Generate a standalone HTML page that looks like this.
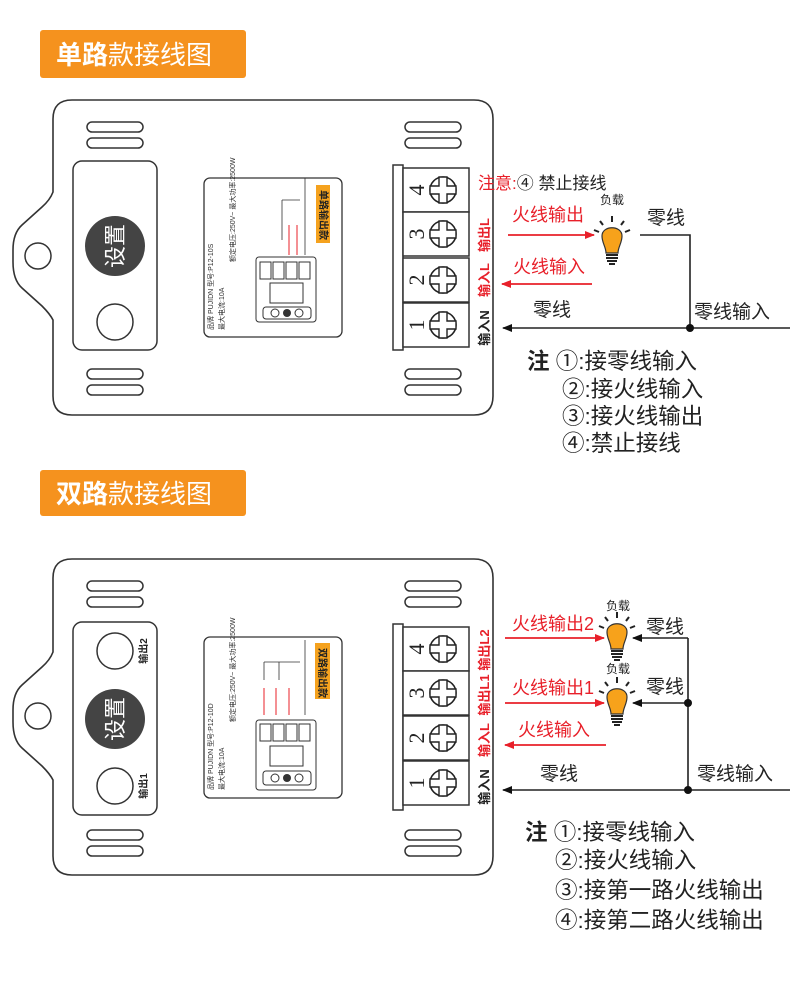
<!DOCTYPE html>
<html><head><meta charset="utf-8"><style>
html,body{margin:0;padding:0;background:#fff;width:790px;height:986px;overflow:hidden}
svg{display:block;font-family:"Liberation Sans","Noto Sans CJK SC",sans-serif}
</style></head><body>
<svg width="790" height="986" viewBox="0 0 790 986" xmlns="http://www.w3.org/2000/svg">
<defs>
<marker id="ar" markerWidth="10" markerHeight="8" refX="9" refY="4" orient="auto" markerUnits="userSpaceOnUse"><path d="M0,0 L10,4 L0,8 Z" fill="#e8202a"/></marker>
<marker id="ab" markerWidth="10" markerHeight="8" refX="9" refY="4" orient="auto" markerUnits="userSpaceOnUse"><path d="M0,0 L10,4 L0,8 Z" fill="#111"/></marker>
<g id="bulb">
<path d="M-10,-4 C-10,-15 10,-15 10,-4 C10,3 6,7 6,13 L-6,13 C-6,7 -10,3 -10,-4 Z" fill="#f7a21b" stroke="#333" stroke-width="1.2"/>
<rect x="-6" y="14" width="12" height="2" fill="#222"/><rect x="-6" y="17" width="12" height="2" fill="#222"/><rect x="-5" y="20" width="10" height="2" fill="#222"/><rect x="-3" y="23" width="6" height="2" fill="#222"/>
<g stroke="#222" stroke-width="2"><line x1="0" y1="-24" x2="0" y2="-18"/><line x1="-12" y1="-19" x2="-9" y2="-15"/><line x1="12" y1="-19" x2="9" y2="-15"/><line x1="-18" y1="-10" x2="-13" y2="-8"/><line x1="18" y1="-10" x2="13" y2="-8"/></g>
</g>
<g id="cell">
<rect x="0" y="0" width="66" height="44" fill="#fff" stroke="#333" stroke-width="1.5"/>
<circle cx="40" cy="22" r="13" fill="#fff" stroke="#222" stroke-width="1.6"/>
<path d="M36,9 L44,9 L44,18 L53,18 L53,26 L44,26 L44,35 L36,35 L36,26 L27,26 L27,18 L36,18 Z" fill="#fff" stroke="#222" stroke-width="1.4"/>
</g>
<g id="slots" fill="#fff" stroke="#333" stroke-width="1.5">
<rect x="0" y="0" width="56" height="10" rx="5"/><rect x="0" y="16" width="56" height="10" rx="5"/>
</g>
</defs>

<rect x="40" y="30" width="206" height="48" rx="3" fill="#f5921e"/>
<text x="56" y="64" font-size="26" fill="#fff"><tspan font-weight="bold">单路</tspan>款接线图</text>

<path d="M72,100 L474,100 Q493,100 493,119 L493,396 Q493,415 474,415 L72,415 Q53,415 53,396 L53,320 Q50,314 42,306 L22,288 Q13,280 13,262 L13,250 Q13,233 22,225 L42,207 Q50,200 53,192 L53,119 Q53,100 72,100 Z" fill="#fff" stroke="#333" stroke-width="1.6"/>
<circle cx="38" cy="256" r="13" fill="#fff" stroke="#333" stroke-width="1.5"/>
<use href="#slots" x="87" y="122"/><use href="#slots" x="87" y="369"/>
<use href="#slots" x="405" y="122"/><use href="#slots" x="405" y="369"/>
<rect x="73" y="161" width="84" height="189" rx="9" fill="#fff" stroke="#333" stroke-width="1.5"/>
<circle cx="115" cy="246" r="30" fill="#444"/>
<text x="0" y="0" font-size="22" fill="#fff" text-anchor="middle" transform="translate(123,246) rotate(-90)">设置</text>
<circle cx="115" cy="322" r="18" fill="#fff" stroke="#333" stroke-width="1.5"/>
<rect x="204" y="178" width="138" height="159" rx="6" fill="#fff" stroke="#333" stroke-width="1.3"/>
<rect x="316" y="185" width="14" height="58" fill="#f5a21e"/>
<text font-size="10" fill="#222" transform="translate(320,190) rotate(90)" font-weight="bold">单路输出款</text>
<rect x="256" y="257" width="60" height="65" rx="3" fill="#fff" stroke="#333"/>
<g fill="#fff" stroke="#333"><rect x="260" y="262" width="11" height="17"/><rect x="273" y="262" width="11" height="17"/><rect x="286" y="262" width="11" height="17"/><rect x="299" y="262" width="11" height="17"/></g>
<rect x="270" y="283" width="33" height="20" fill="#fff" stroke="#333"/>
<rect x="263" y="307" width="48" height="12" rx="3" fill="#fff" stroke="#333"/>
<circle cx="275" cy="313" r="4" fill="#fff" stroke="#333"/><circle cx="287" cy="313" r="4" fill="#333"/><circle cx="299" cy="313" r="4" fill="#fff" stroke="#333"/>
<g stroke="#333" stroke-width="0.8" fill="none"><path d="M305,178 L305,255"/><path d="M282,200 L282,240 M282,200 L300,200"/></g>
<g stroke="#e8202a" stroke-width="1"><line x1="289" y1="225" x2="289" y2="255"/><line x1="297" y1="225" x2="297" y2="255"/></g>
<g font-size="7" fill="#333">
<text transform="translate(213,330) rotate(-90)">品牌 PUJIDN 型号:P12-10S</text>
<text transform="translate(224,330) rotate(-90)">最大电流:10A</text>
<text transform="translate(235,262) rotate(-90)">额定电压:250V~ 最大功率:2500W</text>
</g>

<rect x="393" y="165" width="10" height="185" fill="#fff" stroke="#333" stroke-width="1.5"/>
<use href="#cell" x="403" y="168"/><use href="#cell" x="403" y="212"/><use href="#cell" x="403" y="258"/><use href="#cell" x="403" y="303"/>
<g font-size="22" fill="#222" font-family="Liberation Serif,serif" text-anchor="middle">
<text transform="translate(417,190) rotate(-90)" dy="7">4</text>
<text transform="translate(417,234) rotate(-90)" dy="7">3</text>
<text transform="translate(417,280) rotate(-90)" dy="7">2</text>
<text transform="translate(417,325) rotate(-90)" dy="7">1</text>
</g>
<g font-size="13" font-weight="bold" text-anchor="middle">
<text transform="translate(484,235) rotate(-90)" fill="#e8202a" dy="5">输出L</text>
<text transform="translate(484,280) rotate(-90)" fill="#e8202a" dy="5">输入L</text>
<text transform="translate(484,328) rotate(-90)" fill="#222" dy="5">输入N</text>
</g>
<text x="478" y="189" font-size="17"><tspan fill="#e8202a">注意:</tspan><tspan fill="#222">④ 禁止接线</tspan></text>
<text x="600" y="204" font-size="12" fill="#222">负载</text>
<use href="#bulb" x="612" y="240"/>
<text x="512" y="221" font-size="18" fill="#e8202a">火线输出</text>
<line x1="508" y1="235" x2="594" y2="235" stroke="#e8202a" stroke-width="1.8" marker-end="url(#ar)"/>
<text x="513" y="273" font-size="18" fill="#e8202a">火线输入</text>
<line x1="592" y1="284" x2="502" y2="284" stroke="#e8202a" stroke-width="1.8" marker-end="url(#ar)"/>
<text x="647" y="224" font-size="19" fill="#222">零线</text>
<polyline points="640,235 690,235 690,328" fill="none" stroke="#222" stroke-width="1.6"/>
<text x="533" y="316" font-size="19" fill="#222">零线</text>
<line x1="790" y1="328" x2="503" y2="328" stroke="#222" stroke-width="1.6" marker-end="url(#ab)"/>
<circle cx="690" cy="328" r="4" fill="#111"/>
<text x="694" y="318" font-size="19" fill="#222">零线输入</text>
<g font-size="22.5" fill="#222">
<text x="527" y="369"><tspan font-weight="bold">注</tspan> ①:接零线输入</text>
<text x="562" y="397">②:接火线输入</text>
<text x="562" y="424">③:接火线输出</text>
<text x="562" y="451">④:禁止接线</text>
</g>

<rect x="40" y="470" width="206" height="46" rx="3" fill="#f5921e"/>
<text x="56" y="503" font-size="26" fill="#fff"><tspan font-weight="bold">双路</tspan>款接线图</text>

<path d="M72,559 L474,559 Q493,559 493,578 L493,856 Q493,875 474,875 L72,875 Q53,875 53,856 L53,780 Q50,774 42,766 L22,748 Q13,740 13,722 L13,710 Q13,693 22,685 L42,667 Q50,660 53,652 L53,578 Q53,559 72,559 Z" fill="#fff" stroke="#333" stroke-width="1.6"/>
<circle cx="38" cy="716" r="13" fill="#fff" stroke="#333" stroke-width="1.5"/>
<use href="#slots" x="87" y="581"/><use href="#slots" x="87" y="830"/>
<use href="#slots" x="405" y="581"/><use href="#slots" x="405" y="830"/>
<rect x="73" y="622" width="84" height="193" rx="9" fill="#fff" stroke="#333" stroke-width="1.5"/>
<circle cx="115" cy="651" r="18" fill="#fff" stroke="#333" stroke-width="1.5"/>
<circle cx="115" cy="719" r="30" fill="#444"/>
<text font-size="22" fill="#fff" text-anchor="middle" transform="translate(123,719) rotate(-90)">设置</text>
<circle cx="115" cy="786" r="18" fill="#fff" stroke="#333" stroke-width="1.5"/>
<text font-size="10" font-weight="bold" fill="#222" text-anchor="middle" transform="translate(143,651) rotate(-90)" dy="4">输出2</text>
<text font-size="10" font-weight="bold" fill="#222" text-anchor="middle" transform="translate(143,786) rotate(-90)" dy="4">输出1</text>
<rect x="204" y="637" width="138" height="161" rx="6" fill="#fff" stroke="#333" stroke-width="1.3"/>
<rect x="315" y="643" width="15" height="56" fill="#f5a21e"/>
<text font-size="10" fill="#222" transform="translate(319,648) rotate(90)" font-weight="bold">双路输出款</text>
<rect x="256" y="720" width="60" height="70" rx="3" fill="#fff" stroke="#333"/>
<g fill="#fff" stroke="#333"><rect x="260" y="724" width="11" height="17"/><rect x="273" y="724" width="11" height="17"/><rect x="286" y="724" width="11" height="17"/><rect x="299" y="724" width="11" height="17"/></g>
<rect x="270" y="746" width="33" height="20" fill="#fff" stroke="#333"/>
<rect x="263" y="771" width="48" height="14" rx="3" fill="#fff" stroke="#333"/>
<circle cx="275" cy="778" r="4" fill="#fff" stroke="#333"/><circle cx="287" cy="778" r="4" fill="#333"/><circle cx="299" cy="778" r="4" fill="#fff" stroke="#333"/>
<g stroke="#333" stroke-width="0.8" fill="none"><path d="M305,640 L305,715"/><path d="M264,662 L300,662 M264,662 L264,680 M279,662 L279,680"/></g>
<g stroke="#e8202a" stroke-width="1"><line x1="264" y1="688" x2="264" y2="715"/><line x1="276" y1="688" x2="276" y2="715"/><line x1="289" y1="688" x2="289" y2="715"/></g>
<g font-size="7" fill="#333">
<text transform="translate(213,790) rotate(-90)">品牌 PUJIDN 型号:P12-10D</text>
<text transform="translate(224,790) rotate(-90)">最大电流:10A</text>
<text transform="translate(235,722) rotate(-90)">额定电压:250V~ 最大功率:2500W</text>
</g>

<rect x="393" y="624" width="10" height="186" fill="#fff" stroke="#333" stroke-width="1.5"/>
<use href="#cell" x="403" y="627"/><use href="#cell" x="403" y="671"/><use href="#cell" x="403" y="716"/><use href="#cell" x="403" y="761"/>
<g font-size="22" fill="#222" font-family="Liberation Serif,serif" text-anchor="middle">
<text transform="translate(417,649) rotate(-90)" dy="7">4</text>
<text transform="translate(417,693) rotate(-90)" dy="7">3</text>
<text transform="translate(417,738) rotate(-90)" dy="7">2</text>
<text transform="translate(417,783) rotate(-90)" dy="7">1</text>
</g>
<g font-size="13" font-weight="bold" text-anchor="middle">
<text transform="translate(484,650) rotate(-90)" fill="#e8202a" dy="5">输出L2</text>
<text transform="translate(484,695) rotate(-90)" fill="#e8202a" dy="5">输出L1</text>
<text transform="translate(484,740) rotate(-90)" fill="#e8202a" dy="5">输入L</text>
<text transform="translate(484,787) rotate(-90)" fill="#222" dy="5">输入N</text>
</g>
<text x="606" y="610" font-size="12" fill="#222">负载</text>
<use href="#bulb" x="617" y="636"/>
<text x="606" y="673" font-size="12" fill="#222">负载</text>
<use href="#bulb" x="617" y="701"/>
<text x="512" y="630" font-size="18" fill="#e8202a">火线输出2</text>
<line x1="505" y1="638" x2="604" y2="638" stroke="#e8202a" stroke-width="1.8" marker-end="url(#ar)"/>
<text x="512" y="694" font-size="18" fill="#e8202a">火线输出1</text>
<line x1="505" y1="703" x2="604" y2="703" stroke="#e8202a" stroke-width="1.8" marker-end="url(#ar)"/>
<text x="518" y="736" font-size="18" fill="#e8202a">火线输入</text>
<line x1="606" y1="745" x2="505" y2="745" stroke="#e8202a" stroke-width="1.8" marker-end="url(#ar)"/>
<text x="646" y="633" font-size="19" fill="#222">零线</text>
<text x="646" y="693" font-size="19" fill="#222">零线</text>
<polyline points="688,638 688,790" fill="none" stroke="#222" stroke-width="1.6"/>
<line x1="688" y1="638" x2="633" y2="638" stroke="#222" stroke-width="1.6" marker-end="url(#ab)"/>
<line x1="688" y1="703" x2="633" y2="703" stroke="#222" stroke-width="1.6" marker-end="url(#ab)"/>
<circle cx="688" cy="703" r="4" fill="#111"/>
<text x="540" y="780" font-size="19" fill="#222">零线</text>
<line x1="790" y1="790" x2="503" y2="790" stroke="#222" stroke-width="1.6" marker-end="url(#ab)"/>
<circle cx="688" cy="790" r="4" fill="#111"/>
<text x="697" y="780" font-size="19" fill="#222">零线输入</text>
<g font-size="22.5" fill="#222">
<text x="525" y="840"><tspan font-weight="bold">注</tspan> ①:接零线输入</text>
<text x="555" y="868">②:接火线输入</text>
<text x="555" y="898">③:接第一路火线输出</text>
<text x="555" y="928">④:接第二路火线输出</text>
</g>
</svg>
</body></html>
